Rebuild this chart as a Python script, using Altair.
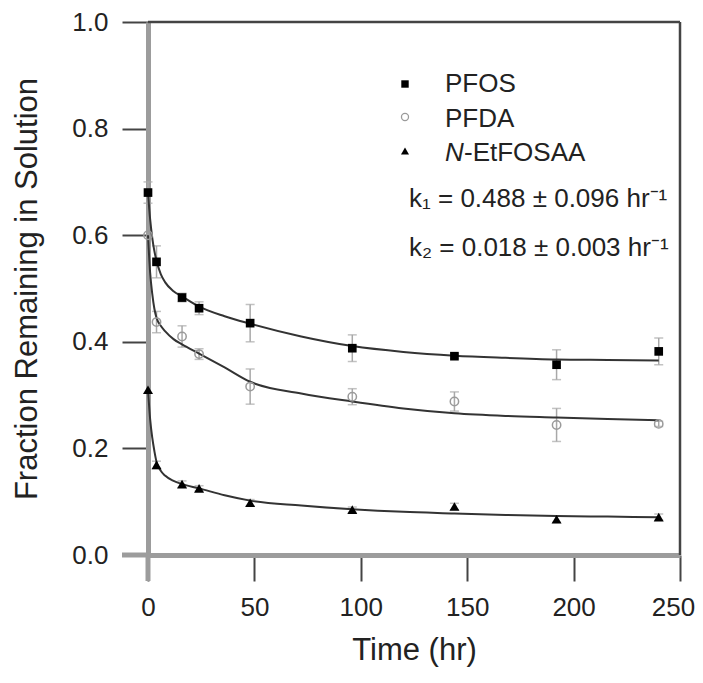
import altair as alt
import pandas as pd

# ---------------- data ----------------
series_names = ["PFOS", "PFDA", "N-EtFOSAA"]

t_obs = [0, 4, 16, 24, 48, 96, 144, 192, 240]
pfos = [0.680, 0.550, 0.483, 0.463, 0.435, 0.388, 0.373, 0.357, 0.382]
pfos_err = [0.020, 0.030, 0.008, 0.012, 0.035, 0.025, 0.004, 0.028, 0.025]
pfda = [0.600, 0.437, 0.410, 0.377, 0.316, 0.297, 0.288, 0.244, 0.246]
pfda_err = [0.000, 0.020, 0.020, 0.010, 0.033, 0.015, 0.018, 0.031, 0.005]
etfosaa = [0.310, 0.169, 0.133, 0.125, 0.098, 0.085, 0.091, 0.067, 0.071]
etfosaa_err = [0.000, 0.007, 0.006, 0.005, 0.006, 0.005, 0.006, 0.006, 0.006]

t_fit = [0, 1, 2, 3, 4, 6, 8, 12, 16, 24, 36, 48, 72, 96, 120, 144, 168, 192, 216, 240]
pfos_fit = [0.680, 0.630, 0.595, 0.570, 0.552, 0.527, 0.512, 0.495, 0.485, 0.466, 0.448,
            0.434, 0.410, 0.392, 0.381, 0.374, 0.370, 0.367, 0.366, 0.365]
pfda_fit = [0.600, 0.530, 0.490, 0.462, 0.445, 0.430, 0.420, 0.405, 0.395, 0.378, 0.352,
            0.325, 0.303, 0.288, 0.275, 0.266, 0.261, 0.258, 0.255, 0.253]
etfosaa_fit = [0.310, 0.255, 0.220, 0.195, 0.175, 0.158, 0.149, 0.139, 0.133, 0.125, 0.112,
               0.102, 0.093, 0.086, 0.081, 0.078, 0.075, 0.073, 0.072, 0.071]

x_ticks = [0, 50, 100, 150, 200, 250]
y_ticks = [0.0, 0.2, 0.4, 0.6, 0.8, 1.0]

k1_text = "k\u2081 = 0.488 \u00b1 0.096 hr\u207b\u00b9"
k2_text = "k\u2082 = 0.018 \u00b1 0.003 hr\u207b\u00b9"

# ---------------- tables ----------------
rows = []
for name, vals, errs in zip(series_names, [pfos, pfda, etfosaa], [pfos_err, pfda_err, etfosaa_err]):
    for t, v, e in zip(t_obs, vals, errs):
        rows.append({"series": name, "t": t, "v": v, "lo": v - e, "hi": v + e, "e": e})
obs = pd.DataFrame(rows)

frows = []
for name, vals in zip(series_names, [pfos_fit, pfda_fit, etfosaa_fit]):
    for t, v in zip(t_fit, vals):
        frows.append({"series": name, "t": t, "v": v})
fit = pd.DataFrame(frows)

W, H = 532, 533
FONT = "Liberation Sans"
TXT = "#222222"
GRAY_AX = "#9c9c9c"
DARK = "#444444"

xs = alt.Scale(domain=[0, 250], nice=False, zero=False)
ys = alt.Scale(domain=[0, 1], nice=False, zero=False)

x_axis = alt.Axis(
    values=x_ticks, title="Time (hr)", labelPadding=13, titlePadding=15, labelFlush=False,
    labelOffset={"condition": {"test": "datum.value == 250", "value": -7}, "value": 0},
)
y_axis = alt.Axis(values=y_ticks, format=".1f", title="Fraction Remaining in Solution",
                  labelPadding=14, titlePadding=28)

X = alt.X("t:Q", scale=xs, axis=x_axis)

errs_df = obs[obs["e"] > 0]
err_base = alt.Chart(errs_df)
err_rule = err_base.mark_rule(color="#a8a8a8", strokeWidth=1.5).encode(
    x=X, y=alt.Y("lo:Q", scale=ys, axis=y_axis), y2="hi:Q")
cap_hi = err_base.mark_tick(color="#a8a8a8", orient="horizontal", size=9, thickness=1.5).encode(
    x="t:Q", y="hi:Q")
cap_lo = err_base.mark_tick(color="#a8a8a8", orient="horizontal", size=9, thickness=1.5).encode(
    x="t:Q", y="lo:Q")

curves = alt.Chart(fit).mark_line(color="#333333", strokeWidth=2, interpolate="monotone").encode(
    x="t:Q", y="v:Q", detail="series:N")

pts_pfos = alt.Chart(obs[obs["series"] == "PFOS"]).mark_point(
    shape="square", filled=True, color="#000000", size=75, opacity=1).encode(x="t:Q", y="v:Q")
pts_pfda = alt.Chart(obs[obs["series"] == "PFDA"]).mark_point(
    shape="circle", filled=False, color="#9a9a9a", size=70, strokeWidth=1.5, opacity=1).encode(
    x="t:Q", y="v:Q")
pts_eth = alt.Chart(obs[obs["series"] == "N-EtFOSAA"]).mark_point(
    shape="triangle-up", filled=True, color="#000000", size=100, opacity=1).encode(x="t:Q", y="v:Q")

# frame: top and right border, axis extensions past the origin
one = pd.DataFrame({"a": [0]})
frame_top = alt.Chart(one).mark_rule(color=DARK, strokeWidth=2.5).encode(
    x=alt.value(0), x2=alt.value(W), y=alt.value(0))
frame_right = alt.Chart(one).mark_rule(color=DARK, strokeWidth=2.5).encode(
    x=alt.value(W), y=alt.value(0), y2=alt.value(H))
ext_x = alt.Chart(one).mark_rule(color=GRAY_AX, strokeWidth=5).encode(
    x=alt.value(-26), x2=alt.value(0), y=alt.value(H))
ext_y = alt.Chart(one).mark_rule(color=GRAY_AX, strokeWidth=5).encode(
    x=alt.value(0), y=alt.value(H), y2=alt.value(H + 26))

# legend (manual)
LX, TX = 257, 297
leg_sq = alt.Chart(one).mark_point(shape="square", filled=True, color="#000000", size=55, opacity=1).encode(
    x=alt.value(LX), y=alt.value(62))
leg_ci = alt.Chart(one).mark_point(shape="circle", filled=False, color="#9a9a9a", size=50,
                                   strokeWidth=1.3, opacity=1).encode(x=alt.value(LX), y=alt.value(95))
leg_tr = alt.Chart(one).mark_point(shape="triangle-up", filled=True, color="#000000", size=65, opacity=1).encode(
    x=alt.value(LX), y=alt.value(129))

def label(txt, x, y, italic=False):
    return alt.Chart(one).mark_text(
        text=txt, align="left", baseline="alphabetic", font=FONT, fontSize=26,
        fontStyle="italic" if italic else "normal", color=TXT).encode(
        x=alt.value(x), y=alt.value(y))

leg_t1 = label(series_names[0], TX, 70)
leg_t2 = label(series_names[1], TX, 105)
leg_t3a = label("N", TX, 139, italic=True)
leg_t3b = label("-EtFOSAA", TX + 19, 139)
k1 = label(k1_text, 261, 185)
k2 = label(k2_text, 261, 234)

chart = alt.layer(
    err_rule, cap_hi, cap_lo, curves, pts_pfda, pts_pfos, pts_eth,
    frame_top, frame_right, ext_x, ext_y,
    leg_sq, leg_ci, leg_tr, leg_t1, leg_t2, leg_t3a, leg_t3b, k1, k2,
).properties(
    width=W, height=H,
    autosize=alt.AutoSizeParams(type="none"),
    padding={"left": 140, "top": 14, "right": 15, "bottom": 114},
).configure_view(
    stroke=None
).configure_axis(
    grid=False, domainColor=GRAY_AX, domainWidth=5, tickColor=DARK, tickWidth=2, tickSize=26,
    labelFont=FONT, labelFontSize=26, labelColor=TXT,
    titleFont=FONT, titleFontSize=31, titleFontWeight="normal", titleColor=TXT,
)

chart.save("out.html", embed_options={"renderer": "svg", "actions": False})
